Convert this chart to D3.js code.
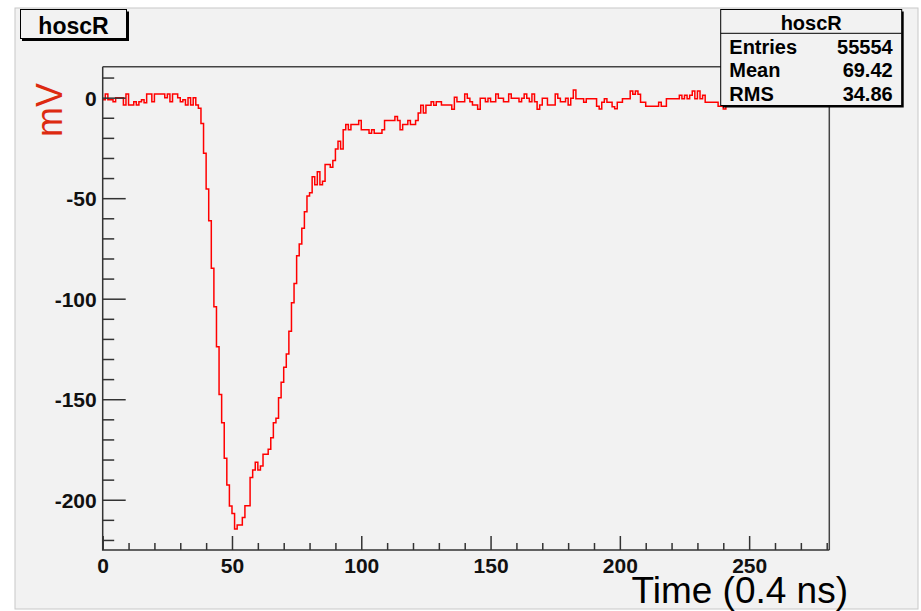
<!DOCTYPE html>
<html><head><meta charset="utf-8">
<script src="https://cdn.jsdelivr.net/npm/d3@7"></script>
<style>
html,body{margin:0;padding:0;background:#fff;}
text{font-family:"Liberation Sans",Arial,Helvetica,sans-serif;}
</style>
</head><body>
<svg id="c" width="921" height="611"></svg>
<script>
// ---- data (mV per 0.4 ns bin, bins 0..280) ----
const values = [
 -1, 1.8, -1, -1, -2, 0, 0, 0, -3.6, 1.8,
 -3.6, -3.6, -2, -3.6, -2, -1, -2.5, 1.8, 1.8, -2,
 1.8, 1.8, 1.8, 1.8, 0, 1.8, -2, 1.8, 1.8, 0,
 -2, -1, -3.6, 0, -3.6, 0, -3.6, -5.3, -12.8, -27.7,
 -45.4, -61.2, -84.9, -104, -123.9, -147.6, -161.7, -179.4, -192.7, -203.1,
 -206.8, -214.6, -212.6, -212.6, -208.8, -203, -203, -188.9, -185.2, -181.4,
 -185.2, -183.2, -177.4, -177.4, -174.9, -169.2, -161.7, -159.5, -149.3, -141.6,
 -134.1, -127.5, -116.2, -102, -92.5, -78.6, -72.8, -65, -56.7, -48.9,
 -47.3, -39.3, -43.3, -36.8, -43.3, -41.6, -33.3, -33.3, -34.6, -31.3,
 -25.5, -21.7, -25.5, -15.9, -13.4, -15.9, -13.4, -13.4, -13.4, -11.4,
 -15.9, -15.9, -15.9, -17.7, -15.9, -17.7, -17.7, -17.7, -15.9, -11.4,
 -11.4, -11.4, -11.4, -9.4, -11.4, -15.9, -13.4, -13.4, -11.4, -13.4,
 -13.4, -11.4, -7.6, -3.8, -7.6, -3.8, -3.8, -2, -3.8, -2,
 -2, -3.6, -3.6, -3.6, -3.6, -5.8, 0.2, -2, -2, -2,
 1.8, -0.3, -2, -3.6, -3.6, -5.8, -0.3, -0.3, -2, -0.3,
 -2, -2, 1.8, -0.3, -0.3, -2, -2, 1.8, -0.3, -0.3,
 -0.3, -2, -0.3, 1.8, -0.3, -2, 1.8, -2, -5.8, -3.6,
 -0.3, -0.3, -3.6, -3.6, -3.6, 1.8, -0.3, -2, -2, -0.3,
 -3.6, -0.3, 3.8, -0.5, -0.5, -0.5, -2.3, -0.5, -0.5, -0.5,
 -0.5, -4.3, -5.6, -2.3, -0.5, -2.3, -2.3, -4.5, -5.5, -2.3,
 -2.3, -0.5, -0.5, -0.5, 3.3, 1.7, 3.3, 1.7, -2.3, -2.3,
 -4.3, -4.3, -4.3, -4.3, -4.3, -2.3, -4.3, -4.3, -0.5, -0.5,
 -0.5, -0.5, -0.5, 1.2, -0.5, 1.2, -0.5, 1.2, 3.3, -0.5,
 3.3, -0.5, 1.2, -2.3, -2.3, -2.3, -2.3, -2.3, -4.3, -4.3,
 -5.6, -2, 0, 1.8, -1, 0, -2, 1.8, 0, -1,
 1.8, 0, -2, -1, 1.8, 0, -2, 0, 1.8, -1,
 0, -2, 1.8, 0, -1, 1.8, 0, -2, 0, 1.8,
 -1, 0, -2, 1.8, 0, -1, 0, 1.8, -2, 0,
 -1
];
const xMajorTicks = [0, 50, 100, 150, 200, 250];
const xMinorTicks = [10,20,30,40,60,70,80,90,110,120,130,140,160,170,180,190,210,220,230,240,260,270,280];
const yMajorTicks = [-200, -150, -100, -50, 0];
const yMinorTicks = [-220,-210,-190,-180,-170,-160,-140,-130,-120,-110,-90,-80,-70,-60,-40,-30,-20,-10,10];
const histTitle = "hoscR";
const statsLabels = ["Entries", "Mean", "RMS"];
const statsValues = ["55554", "69.42", "34.86"];
const xTitle = "Time (0.4 ns)";
const yTitle = "mV";

// ---- layout ----
const svg = d3.select("#c");
const L = 102.7, R = 829.3, T = 66.7, B = 550;
const x = d3.scaleLinear().domain([0, values.length]).range([L, R]);
const y = d3.scaleLinear().domain([-225, 15.4]).range([B, T]);
const axisCol = "#333";

// canvas background
svg.append("rect").attr("x",0).attr("y",0).attr("width",921).attr("height",611).attr("fill","#fff");
svg.append("rect").attr("x",15).attr("y",8).attr("width",903).attr("height",601)
  .attr("fill","#f2f2f2").attr("stroke","#c8c8c8").attr("stroke-width",1);

// histogram
const pts = values.map((v,i)=>[i, v]);
pts.push([values.length, values[values.length-1]]);
const line = d3.line().x(d=>x(d[0])).y(d=>y(d[1])).curve(d3.curveStepAfter);
svg.append("path").attr("d", line(pts)).attr("fill","none")
  .attr("stroke","#ff0000").attr("stroke-width",1.5).attr("stroke-linejoin","miter");

// frame (top/right)
svg.append("path").attr("d",`M${L},${T}H${R}V${B}`).attr("fill","none")
  .attr("stroke","#444").attr("stroke-width",1.5);

// y axis
const yMaj = svg.append("g").attr("transform",`translate(${L},0)`)
  .call(d3.axisLeft(y).tickValues(yMajorTicks).tickSize(-23).tickPadding(6).tickFormat(d=>String(d)));
const yMin = svg.append("g").attr("transform",`translate(${L},0)`)
  .call(d3.axisLeft(y).tickValues(yMinorTicks).tickSize(-11.5).tickFormat(""));
// x axis
const xMaj = svg.append("g").attr("transform",`translate(0,${B})`)
  .call(d3.axisBottom(x).tickValues(xMajorTicks).tickSize(-14).tickFormat(d=>String(d)));
const xMin = svg.append("g").attr("transform",`translate(0,${B})`)
  .call(d3.axisBottom(x).tickValues(xMinorTicks).tickSize(-7).tickFormat(""));
[yMaj,yMin,xMaj,xMin].forEach(g=>{
  g.select(".domain").remove();
  g.selectAll(".tick line").attr("stroke",axisCol).attr("stroke-width",1.5);
  g.selectAll("text").attr("fill","#111").style("font-size","21px").style("font-weight","bold");
});
yMaj.selectAll("text").attr("dy","0.36em");
xMaj.selectAll("text").attr("y",23).attr("dy",0);
// axis lines
svg.append("path").attr("d",`M${L},${T}V${B}H${R}`).attr("fill","none")
  .attr("stroke",axisCol).attr("stroke-width",1.5);

// axis titles
svg.append("text").attr("transform",`translate(62,110) rotate(-90)`)
  .attr("text-anchor","middle").attr("fill","#dd2a10").style("font-size","36px").text(yTitle);
svg.append("text").attr("x",848).attr("y",603).attr("text-anchor","end")
  .attr("fill","#000").style("font-size","37px").text(xTitle);

// title box
svg.append("rect").attr("x",22).attr("y",11.5).attr("width",107).attr("height",29.5).attr("fill","#000");
svg.append("rect").attr("x",20.5).attr("y",9.5).attr("width",106).attr("height",29)
  .attr("fill","#f2f2f2").attr("stroke","#000").attr("stroke-width",1);
svg.append("text").attr("x",73.5).attr("y",33.5).attr("text-anchor","middle")
  .style("font-size","23px").style("font-weight","bold").attr("fill","#000").text(histTitle);

// stats box
const sx = 720.7, sy = 9.5, sw = 181, sh = 96;
svg.append("rect").attr("x",sx+2).attr("y",sy+2).attr("width",sw).attr("height",sh).attr("fill","#000");
svg.append("rect").attr("x",sx).attr("y",sy).attr("width",sw).attr("height",sh)
  .attr("fill","#f2f2f2").attr("stroke","#000").attr("stroke-width",1);
svg.append("line").attr("x1",sx).attr("x2",sx+sw).attr("y1",33.3).attr("y2",33.3)
  .attr("stroke","#000").attr("stroke-width",1);
svg.append("text").attr("x",sx+sw/2).attr("y",30).attr("text-anchor","middle")
  .style("font-size","20px").style("font-weight","bold").attr("fill","#000").text(histTitle);
const rowY = [54, 77.3, 100.7];
statsLabels.forEach((lab,i)=>{
  svg.append("text").attr("x",729.3).attr("y",rowY[i])
    .style("font-size","20px").style("font-weight","bold").attr("fill","#000").text(lab);
  svg.append("text").attr("x",892.7).attr("y",rowY[i]).attr("text-anchor","end")
    .style("font-size","20px").style("font-weight","bold").attr("fill","#000").text(statsValues[i]);
});
</script>
</body></html>
